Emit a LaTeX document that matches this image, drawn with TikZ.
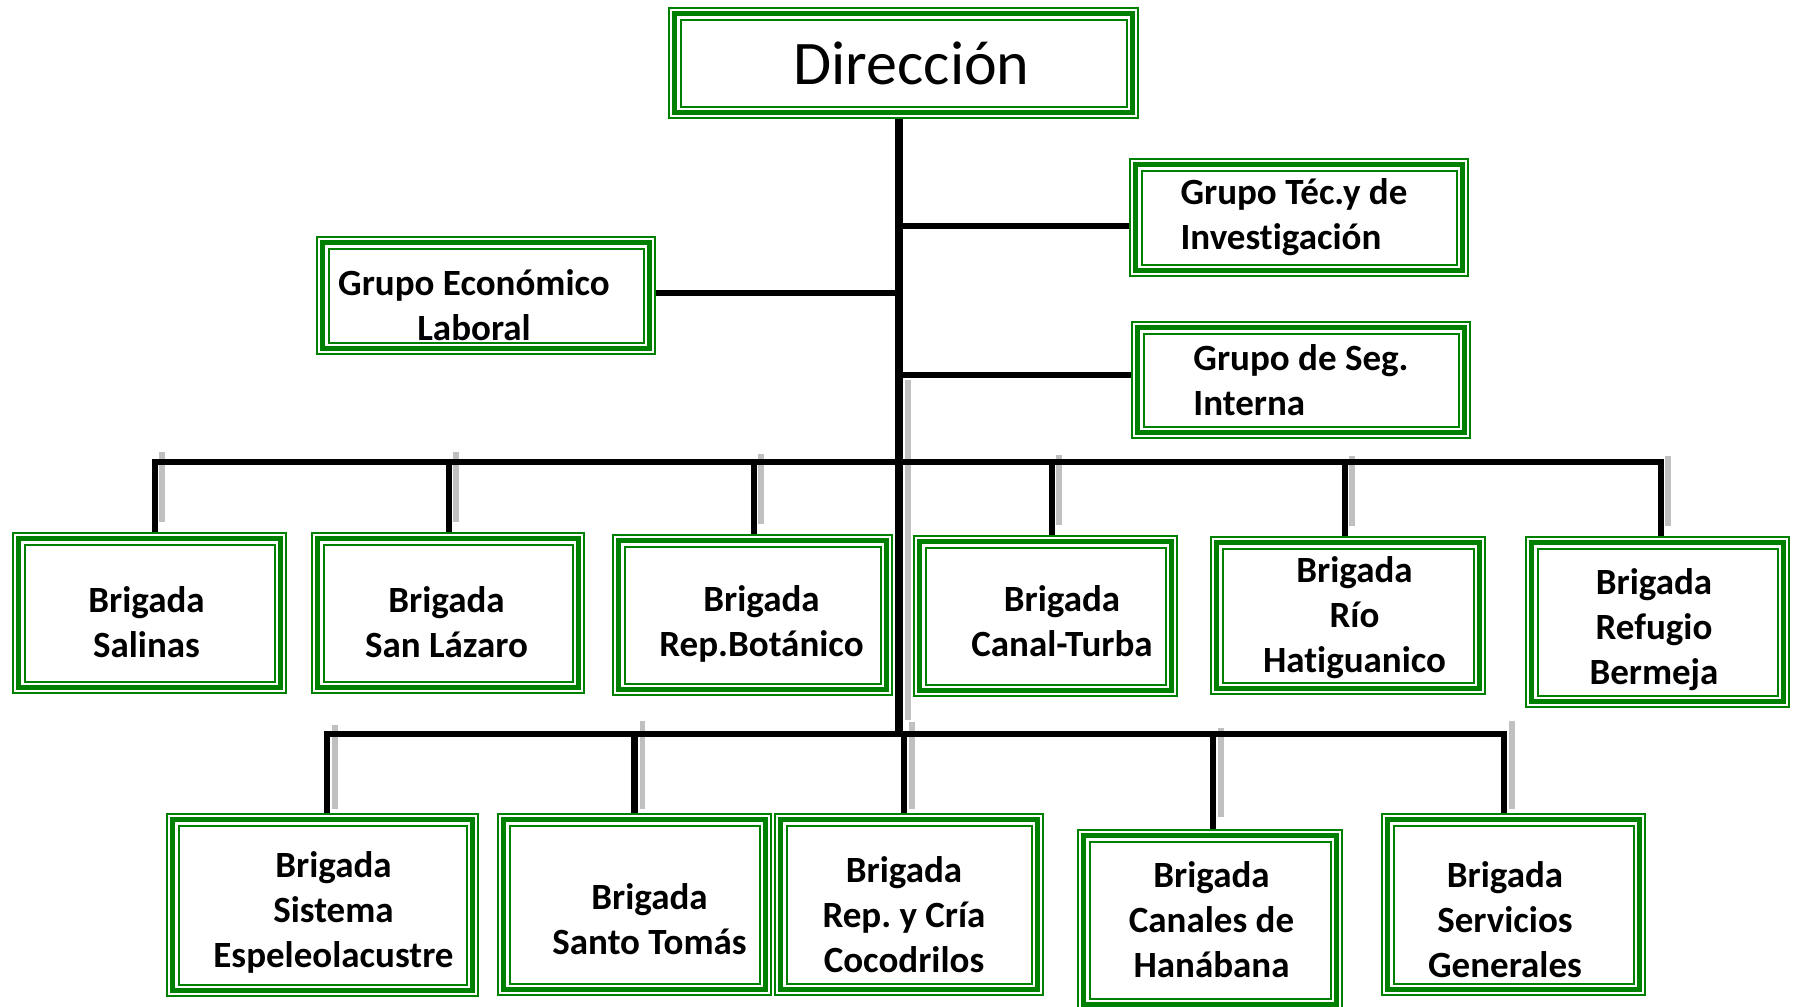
\documentclass[tikz,border=0pt]{standalone}
\usepackage{fontspec}
\setmainfont{Carlito}[Ligatures=NoCommon]
\frenchspacing
\definecolor{ogreen}{RGB}{0,128,0}
\definecolor{echogray}{RGB}{192,192,192}
\tikzset{
    unit/.style = {draw=ogreen,line width=2.5pt,inner sep=0pt,outer sep=3.375pt,
        preaction={draw=ogreen,line width=1pt,double=white,double distance=4.75pt}},
    grp/.style = {unit,minimum width=163.25pt,minimum height=52.75pt},
    brig/.style = {unit,minimum height=74.25pt},
    lbl/.style = {align=center,inner sep=0pt,font=\fontsize{18.5}{22.5}\selectfont\bfseries},
    wire/.style = {line width=3.25pt},
    echo/.style = {draw=echogray,line width=2.75pt}
}

\begin{document}
\begin{tikzpicture}[x=0.5pt,y=-0.5pt]
    \useasboundingbox (0,0) rectangle (1795,1007);
    % Direction
    \node[unit,minimum width=228.75pt,minimum height=49.25pt,
        label={[inner sep=0pt,font=\fontsize{31}{36}\selectfont,shift={(8,0)}]center:Dirección}
    ] (dir) at (903.5,63) {};
    % Groups
    \node[grp,label={[lbl,align=left,shift={(-5,0)}]center:Grupo Téc.y de\\Investigación}] (tec) at (1299,217.5) {};
    \node[grp,label={[lbl,shift={(-12,10)}]center:Grupo Económico\\Laboral}] (eco) at (486,295.5) {};
    \node[grp,minimum height=52.25pt,label={[lbl,align=left]center:Grupo de Seg.\\Interna}] (seg) at (1301,380) {};
    % Brigades, upper row
    \node[brig,minimum width=130.75pt,
        label={[lbl,shift={(-3,9.5)}]center:Brigada\\Salinas}] (salinas) at (149.5,613) {};
    \node[brig,minimum width=130.25pt,
        label={[lbl,shift={(-1.5,9.5)}]center:Brigada\\San Lázaro}] (lazaro) at (448,613) {};
    \node[brig,minimum width=133.75pt,
        label={[lbl,shift={(9,8.5)}]center:Brigada\\Rep.Botánico}] (botanico) at (752.5,615) {};
    \node[brig,minimum width=125.75pt,
        label={[lbl,shift={(16.5,5)}]center:Brigada\\Canal-Turba}] (canal) at (1045.5,616) {};
    \node[brig,minimum width=131.25pt,minimum height=72.75pt,
        label={[lbl,shift={(6.5,2)}]center:Brigada\\Río\\Hatiguanico}] (rio) at (1348,615.5) {};
    \node[brig,minimum width=125.75pt,minimum height=79.25pt,
        label={[lbl,shift={(-3.5,7.5)}]center:Brigada\\Refugio\\Bermeja}] (refugio) at (1657.5,622) {};
    % Brigades, lower row
    \node[brig,minimum width=149.75pt,minimum height=85.25pt,
        label={[lbl,shift={(11,7)}]center:Brigada\\Sistema\\Espeleolacustre}] (sistema) at (322.5,905) {};
    \node[brig,minimum width=130.75pt,minimum height=84.75pt,
        label={[lbl,shift={(15,15)}]center:Brigada\\Santo Tomás}] (tomas) at (634.5,904.5) {};
    \node[brig,minimum width=128.25pt,minimum height=84.75pt,
        label={[lbl,shift={(-5,10.5)}]center:Brigada\\Rep. y Cría\\Cocodrilos}] (cria) at (909,904.5) {};
    \node[brig,minimum width=126.25pt,minimum height=84.25pt,
        label={[lbl,shift={(1.5,0)}]center:Brigada\\Canales de\\Hanábana}] (hanabana) at (1210,920) {};
    \node[brig,minimum width=125.75pt,minimum height=84.75pt,
        label={[lbl,shift={(-8.5,15)}]center:Brigada\\Servicios\\Generales}] (servicios) at (1513.5,904.5) {};
    % Bus levels and drop points
    \coordinate (ubus) at (899,462);
    \coordinate (lbus) at (899,734);
    \foreach \b/\dx in {salinas/2.75,lazaro/0.5,botanico/0.75,canal/3.25,rio/-1.5,refugio/1.75,
        sistema/2.25,tomas/0,cria/-2.5,hanabana/1.5,servicios/-4.75}
        \coordinate (\b-top) at ([xshift=\dx pt]\b.north);
    % Grey echoes
    \foreach \b in {salinas,lazaro,botanico,canal,rio,refugio}
        \draw[echo] (\b-top) ++(7,-10) -- ++(0,-70);
    \foreach \b/\lo/\len in {sistema/4/84,tomas/4/88,cria/4/87,hanabana/12/89,servicios/4/88}
        \draw[echo] (\b-top) ++(8,-\lo) -- ++(0,-\len);
    \draw[echo] (lbus) ++(9,-14) -- ++(0,-340);
    % Spine and group links
    \draw[wire,line width=3.75pt] ([xshift=-2.25pt]dir.south) -- (lbus);
    \foreach \grp/\side/\yy in {tec/west/226,eco/east/293,seg/west/375}
        \draw[wire] (lbus |- 0,\yy) -- (\grp.\side |- 0,\yy);
    % Buses
    \draw[wire] (salinas-top) |- (refugio-top |- ubus) -- (refugio-top);
    \foreach \b in {lazaro,botanico,canal,rio}
        \draw[wire] (\b-top |- ubus) -- (\b-top);
    \draw[wire] (sistema-top) |- (servicios-top |- lbus) -- (servicios-top);
    \foreach \b in {tomas,cria,hanabana}
        \draw[wire] (\b-top |- lbus) -- (\b-top);
\end{tikzpicture}
\end{document}
